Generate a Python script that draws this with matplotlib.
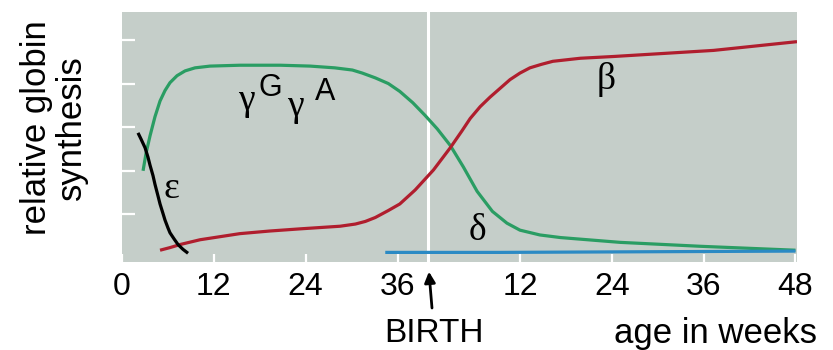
import matplotlib
matplotlib.use("Agg")
import matplotlib.pyplot as plt

# weeks since conception; birth at week 40, postnatal week w -> 40 + w
x_ticks = [0, 12, 24, 36, 52, 64, 76, 88]
x_tick_labels = ["0", "12", "24", "36", "12", "24", "36", "48"]
birth_week = 40

gamma_x = [2.75, 3.14, 3.66, 4.31, 4.97, 5.62, 6.27, 7.19, 8.24, 9.54, 11.5, 15.4,
           20.7, 24.6, 27.8, 30.1, 31.4, 33.1, 34.8, 36.3, 38.0, 39.6, 41.2, 42.9,
           44.6, 46.4, 48.4, 50.3, 52.0, 54.6, 57.3, 65.1, 75.6, 88.0]
gamma_y = [2.00, 2.40, 2.80, 3.24, 3.60, 3.84, 4.02, 4.18, 4.29, 4.36, 4.40, 4.42,
           4.42, 4.40, 4.36, 4.31, 4.24, 4.13, 4.00, 3.82, 3.56, 3.27, 2.96, 2.58,
           2.09, 1.53, 1.07, 0.80, 0.64, 0.53, 0.47, 0.36, 0.27, 0.18]

beta_x = [4.97, 6.27, 7.58, 10.2, 15.4, 19.3, 23.3, 28.5, 30.5, 31.8, 33.1, 34.8,
          36.3, 38.3, 40.7, 42.9, 44.4, 45.5, 46.8, 48.1, 49.4, 50.7, 52.0, 53.3,
          54.8, 56.3, 59.9, 64.2, 77.3, 88.2]
beta_y = [0.18, 0.24, 0.31, 0.42, 0.56, 0.62, 0.67, 0.73, 0.78, 0.84, 0.93, 1.09,
          1.24, 1.56, 2.02, 2.53, 2.91, 3.20, 3.47, 3.69, 3.89, 4.09, 4.24, 4.36,
          4.44, 4.51, 4.58, 4.62, 4.76, 4.96]

eps_x = [2.09, 2.48, 3.01, 3.40, 3.66, 4.05, 4.31, 4.71, 4.97, 5.36, 5.62, 6.01,
         6.27, 6.80, 7.32, 7.97, 8.63]
eps_y = [2.87, 2.73, 2.53, 2.31, 2.13, 1.89, 1.69, 1.42, 1.24, 1.02, 0.87, 0.69,
         0.58, 0.44, 0.31, 0.20, 0.11]

delta_x = [34.4, 49.4, 88.0]
delta_y = [0.13, 0.13, 0.16]

W, H = 833, 350
fig = plt.figure(figsize=(W / 100, H / 100), dpi=100)
ax = fig.add_axes([122 / W, 1 - 262 / H, 675 / W, 250 / H])
ax.set_facecolor("#c5cec9")
for s in ax.spines.values():
    s.set_visible(False)

ax.axvline(birth_week, color="white", linewidth=2.2, zorder=1)

style = dict(lw=2.3, solid_joinstyle="round", solid_capstyle="butt")
ax.plot(gamma_x, gamma_y, color="#2a9d63", zorder=3, **style)
ax.plot(beta_x, beta_y, color="#b01e2e", zorder=3, **style)
ax.plot(eps_x, eps_y, color="black", zorder=4, **style)
ax.plot(delta_x, delta_y, color="#2b8ac4", zorder=3, clip_on=False, **style)

ax.set_xlim(0, 88.2)
ax.set_ylim(-0.09, 5.64)
ax.set_xticks(x_ticks)
ax.set_xticklabels(x_tick_labels, fontsize=23, family="Liberation Sans")
ax.set_yticks([1, 2, 3, 4, 5])
ax.set_yticklabels([])
ax.tick_params(axis="x", direction="in", color="white", length=6, width=1.6, pad=7)
ax.tick_params(axis="y", direction="in", color="white", length=9, width=1.6)

greek = dict(family="Liberation Serif", fontsize=27, ha="center", va="center")
ax.text(6.4, 1.58, "ε", **greek)
ax.text(63.3, 4.09, "β", **greek)
ax.text(46.5, 0.62, "δ", **greek)
ax.text(16.3, 3.60, "γ", **greek)
ax.text(19.4, 3.90, "G", family="Liberation Sans", fontsize=22, ha="center", va="center")
ax.text(22.6, 3.46, "γ", **greek)
ax.text(26.6, 3.80, "A", family="Liberation Sans", fontsize=22, ha="center", va="center")

fig.text(54 / W, 1 - 128 / H, "relative globin\nsynthesis", rotation=90,
         ha="center", va="center", fontsize=25, family="Liberation Sans",
         linespacing=1.1)
ax.annotate("", xy=(birth_week, -0.09), xycoords="data",
            xytext=(432 / W, 1 - 308 / H), textcoords="figure fraction",
            arrowprops=dict(arrowstyle="-|>", color="black", lw=2,
                            mutation_scale=16, shrinkA=0, shrinkB=7))
fig.text(434 / W, 1 - 333 / H, "BIRTH", ha="center", va="center",
         fontsize=24, family="Liberation Sans")
fig.text(716 / W, 1 - 333 / H, "age in weeks", ha="center", va="center",
         fontsize=25, family="Liberation Sans")

fig.savefig("out.png", dpi=100)
